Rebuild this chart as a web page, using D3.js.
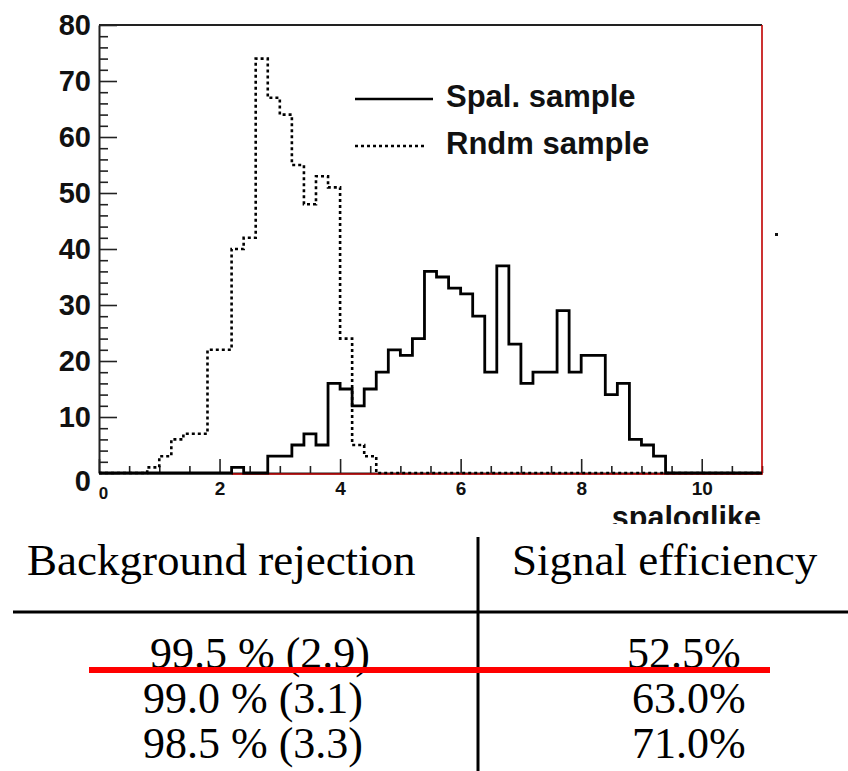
<!DOCTYPE html>
<html>
<head>
<meta charset="utf-8">
<script src="https://cdn.jsdelivr.net/npm/d3@7"></script>
<style>
  html, body { margin: 0; padding: 0; background: #fff; }
  svg { display: block; }
  .sans { font-family: "Liberation Sans", Arial, Helvetica, sans-serif; font-weight: bold; }
  .serif { font-family: "Liberation Serif", "Times New Roman", serif; }
</style>
</head>
<body>
<svg id="fig" width="848" height="771"></svg>
<script>
// Histogram binning (spaloglike, 0.2 wide bins from 0 to 11)
const binWidth = 0.2;
const xDomain = [0, 11];
const yDomain = [0, 80];
const xMajorTicks = [0, 2, 4, 6, 8, 10];
const yMajorTicks = [0, 10, 20, 30, 40, 50, 60, 70, 80];

// Spallation sample counts per bin
const spalCounts = [
  0, 0, 0, 0, 0, 0, 0, 0, 0, 0,
  0, 1, 0, 0, 3, 3, 5, 7, 5, 16,
  15, 12, 15, 18, 22, 21, 24, 36, 35, 33,
  32, 28, 18, 37, 23, 16, 18, 18, 29, 18,
  21, 21, 14, 16, 6, 5, 3, 0, 0, 0,
  0, 0, 0, 0, 0
];

// Random sample counts per bin
const rndmCounts = [
  0, 0, 0, 0, 1, 3, 6, 7, 7, 22,
  22, 40, 42, 74, 67, 64, 55, 48, 53, 51,
  24, 5, 3, 0, 0, 0, 0, 0, 0, 0,
  0, 0, 0, 0, 0, 0, 0, 0, 0, 0,
  0, 0, 0, 0, 0, 0, 0, 0, 0, 0,
  0, 0, 0, 0, 0
];

const seriesNames = ["Spal. sample", "Rndm sample"];
const axisTitle = "spaloglike";

// Cut table
const tableHeader = ["Background rejection", "Signal efficiency"];
const rejection = ["99.5 % (2.9)", "99.0 % (3.1)", "98.5 % (3.3)"];
const efficiency = ["52.5%", "63.0%", "71.0%"];

const svg = d3.select("#fig");
const W = 848, H = 771;
svg.append("rect").attr("width", W).attr("height", H).attr("fill", "#fff");

const frame = { left: 99, right: 762, top: 25, bottom: 473 };
const x = d3.scaleLinear().domain(xDomain).range([frame.left, frame.right]);
const y = d3.scaleLinear().domain(yDomain).range([frame.bottom, frame.top]);

// Chart area is cut off just under the axis title
svg.append("clipPath").attr("id", "chartClip")
  .append("rect").attr("x", 0).attr("y", 0).attr("width", W).attr("height", 524);
const chart = svg.append("g").attr("clip-path", "url(#chartClip)");

// Step outline for a histogram
function stepPoints(counts) {
  const pts = counts.map((v, i) => [i * binWidth, v]);
  pts.push([counts.length * binWidth, counts[counts.length - 1]]);
  return pts;
}
const stepLine = d3.line()
  .x(d => x(d[0]))
  .y(d => y(d[1]))
  .curve(d3.curveStepAfter);

// Frame: top edge black, right edge red
chart.append("line")
  .attr("x1", frame.left).attr("x2", frame.right)
  .attr("y1", frame.top).attr("y2", frame.top)
  .attr("stroke", "#222").attr("stroke-width", 2);

// X axis (ticks pointing inward)
const xMinor = d3.range(0, 11.001, 0.5).filter(v => !xMajorTicks.includes(v));
chart.append("g")
  .attr("transform", `translate(0,${frame.bottom})`)
  .call(d3.axisBottom(x).tickValues(xMinor).tickSize(-7).tickSizeOuter(0).tickFormat(""))
  .call(g => g.select(".domain").remove())
  .call(g => g.selectAll("line").attr("stroke", "#222").attr("stroke-width", 1.6));

const xAxisG = chart.append("g")
  .attr("transform", `translate(0,${frame.bottom})`)
  .call(d3.axisBottom(x).tickValues(xMajorTicks).tickSize(-14).tickSizeOuter(0).tickPadding(9)
    .tickFormat(d3.format("d")));
xAxisG.select(".domain").attr("stroke", "#222").attr("stroke-width", 2);
xAxisG.selectAll("line").attr("stroke", "#222").attr("stroke-width", 1.6);
xAxisG.selectAll("text")
  .attr("class", "sans").attr("font-size", 19).attr("fill", "#111");
xAxisG.selectAll(".tick").filter(d => d === 0).select("text")
  .attr("font-size", 17).attr("x", 4).attr("dy", "1.0em");

// Y axis (ticks pointing inward)
const yMinor = d3.range(0, 80.001, 2).filter(v => !yMajorTicks.includes(v));
chart.append("g")
  .attr("transform", `translate(${frame.left},0)`)
  .call(d3.axisLeft(y).tickValues(yMinor).tickSize(-9).tickSizeOuter(0).tickFormat(""))
  .call(g => g.select(".domain").remove())
  .call(g => g.selectAll("line").attr("stroke", "#222").attr("stroke-width", 1.6));

const yAxisG = chart.append("g")
  .attr("transform", `translate(${frame.left},0)`)
  .call(d3.axisLeft(y).tickValues(yMajorTicks).tickSize(-18).tickSizeOuter(0).tickPadding(8)
    .tickFormat(d3.format("d")));
yAxisG.select(".domain").attr("stroke", "#222").attr("stroke-width", 2);
yAxisG.selectAll("line").attr("stroke", "#222").attr("stroke-width", 1.6);
yAxisG.selectAll("text")
  .attr("class", "sans").attr("font-size", 29).attr("fill", "#111");
yAxisG.selectAll(".tick").filter(d => d === 0).select("text").attr("dy", "0.6em");

// Red empty-histogram outline along zero and the right edge
chart.append("path")
  .attr("d", `M${x(2.2)},${frame.bottom + 1}H${x(11)}V${frame.top}`)
  .attr("fill", "none").attr("stroke", "#c00000").attr("stroke-width", 1.6);

// Histograms
chart.append("path")
  .attr("d", stepLine(stepPoints(rndmCounts)))
  .attr("fill", "none").attr("stroke", "#000").attr("stroke-width", 2.6)
  .attr("stroke-dasharray", "3,3");
chart.append("path")
  .attr("d", stepLine(stepPoints(spalCounts)))
  .attr("fill", "none").attr("stroke", "#000").attr("stroke-width", 2.8);

// Axis title
chart.append("text")
  .attr("class", "sans").attr("font-size", 30.5)
  .attr("x", frame.right - 1).attr("y", 528)
  .attr("text-anchor", "end").attr("fill", "#111")
  .text(axisTitle);

// Legend
const legend = chart.append("g");
const legendRows = [
  { name: seriesNames[0], y: 99, dash: null, x2: 433 },
  { name: seriesNames[1], y: 146, dash: "3,3", x2: 427 }
];
legendRows.forEach(r => {
  legend.append("line")
    .attr("x1", 355).attr("x2", r.x2).attr("y1", r.y).attr("y2", r.y)
    .attr("stroke", "#000").attr("stroke-width", 2.6)
    .attr("stroke-dasharray", r.dash);
  legend.append("text")
    .attr("class", "sans").attr("font-size", 31)
    .attr("x", 446).attr("y", r.y + 8).attr("fill", "#111")
    .text(r.name);
});

// Small mark right of the frame
svg.append("rect").attr("x", 775).attr("y", 233).attr("width", 3).attr("height", 3).attr("fill", "#111");

// Table
const table = svg.append("g");
table.append("line")
  .attr("x1", 13).attr("x2", W).attr("y1", 612).attr("y2", 612)
  .attr("stroke", "#000").attr("stroke-width", 3);
table.append("line")
  .attr("x1", 478).attr("x2", 478).attr("y1", 537).attr("y2", H)
  .attr("stroke", "#000").attr("stroke-width", 3);

const headerX = [27, 512];
tableHeader.forEach((t, i) => {
  table.append("text").attr("class", "serif").attr("font-size", 45)
    .attr("x", headerX[i]).attr("y", 575).attr("fill", "#000").text(t);
});
const rowY = i => 668 + i * 45;
const rejX = [150, 143, 143];
const effX = [627, 632, 632];
rejection.forEach((t, i) => {
  table.append("text").attr("class", "serif").attr("font-size", 44)
    .attr("x", rejX[i]).attr("y", rowY(i)).attr("fill", "#000").text(t);
});
efficiency.forEach((t, i) => {
  table.append("text").attr("class", "serif").attr("font-size", 44)
    .attr("x", effX[i]).attr("y", rowY(i)).attr("fill", "#000").text(t);
});

// Red strike line through the first row
table.append("line")
  .attr("x1", 89).attr("x2", 770).attr("y1", 670).attr("y2", 670)
  .attr("stroke", "#ff0000").attr("stroke-width", 6);
</script>
</body>
</html>
